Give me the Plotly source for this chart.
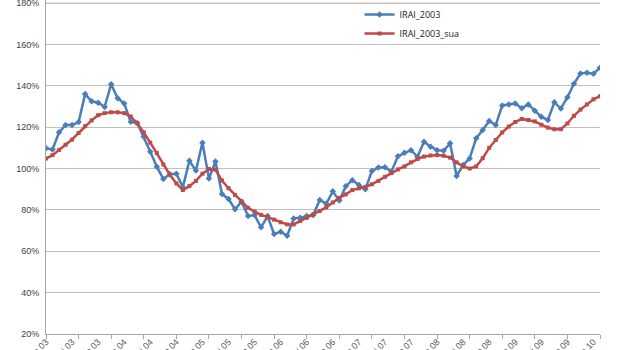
import plotly.graph_objects as go

# IRAI_2003 (blue) and IRAI_2003_sua (red), values in %
blue = [109.8, 109.2, 117.5, 121, 121, 122.5, 136, 132.5, 131.8, 129.8,
        140.8, 134, 131.5, 122.6, 122, 115.4, 108.1, 100.9, 94.9, 97.3,
        97.5, 91, 103.8, 99, 112.5, 95.2, 103.4, 87.7, 85.3, 80.3,
        84, 77, 77.5, 71.6, 77, 68.3, 69.5, 67.5, 75.9, 76.2,
        77, 77.5, 84.8, 83, 89, 84.5, 91.5, 94.4, 92, 90,
        98.8, 100.5, 100.6, 98.5, 106, 107.6, 108.9, 105.7, 113, 110.6,
        108.9, 108.6, 112.2, 96.4, 101.7, 104.9, 114.6, 118.6, 123, 121,
        130.5, 131, 131.5, 129.2, 131, 128, 125, 123.5, 132, 129,
        134.5, 141, 146, 146.3, 145.8, 148.8]

red = [104.8, 106.5, 109, 111.5, 114, 117.2, 120.5, 123.3, 125.8, 126.8,
       127.2, 127.2, 126.8, 125.2, 121.8, 117.5, 112.5, 107.5, 102, 97,
       92.8, 89.6, 91.5, 94, 97.5, 99.8, 99.5, 94.2, 90.5, 87.2,
       84.2, 81, 79.2, 77.6, 76.5, 75.3, 74, 73, 73, 74.6,
       76.2, 77.8, 79.5, 81.2, 83.6, 85.8, 87.5, 89.6, 90.4, 91.1,
       92.4, 94, 96, 97.8, 99.6, 101, 103, 104.6, 105.8, 106.3,
       106.5, 106.2, 105.3, 103, 101, 100, 101, 105, 110, 113.8,
       117.5, 120.3, 122.5, 124, 123.5, 122.8, 121.2, 119.8, 119, 119,
       121.8, 125.5, 128.5, 131, 133.5, 135]

months = ["ian", "feb", "mar", "apr", "mai", "iun", "iul", "aug", "sep", "oct", "nov", "dec"]
labels = [f"{months[k % 12]}.{(3 + k // 12):02d}" for k in range(len(blue))]
ymin, ymax, ystep = 20, 180, 20

x = list(range(len(blue)))
BLUE = "#4A7EBB"
RED = "#BE4B48"
GRID = "#bfbfbf"

fig = go.Figure()
fig.add_trace(go.Scatter(x=x, y=blue, name="IRAI_2003", mode="lines+markers",
                         line=dict(color=BLUE, width=2.5),
                         marker=dict(symbol="diamond", size=5, color=BLUE),
                         legendgroup="a"))
fig.add_trace(go.Scatter(x=x, y=red, name="IRAI_2003_sua", mode="lines+markers",
                         line=dict(color=RED, width=2.5),
                         marker=dict(symbol="square", size=4, color=RED),
                         legendgroup="b"))
# invisible copy so the label axis is drawn
fig.add_trace(go.Scatter(x=x, y=red, xaxis="x2", mode="lines", opacity=0,
                         showlegend=False, hoverinfo="skip"))

# top gridline (180%) sits right at the edge of the plot area
fig.add_hline(y=ymax, line=dict(color=GRID, width=1), layer="below")

fig.update_layout(
    width=620, height=350,
    margin=dict(l=46, r=20, t=0, b=16),
    plot_bgcolor="white", paper_bgcolor="white",
    font=dict(family="Liberation Sans", size=9, color="#404040"),
    xaxis=dict(range=[0, len(x) - 1], showgrid=False, showline=True, linecolor="#a6a6a6",
               linewidth=1, ticks="outside", ticklen=4, tickcolor="#a6a6a6",
               tickvals=x[::5], showticklabels=False, zeroline=False, automargin=False),
    xaxis2=dict(overlaying="x", side="bottom", anchor="y", range=[0, len(x) - 1],
                showgrid=False, showline=False, ticks="", tickvals=x[::4],
                ticktext=labels[::4], tickangle=-45, automargin=False, zeroline=False,
                ticklabeloverflow="allow",
                tickfont=dict(size=9, color="#595959")),
    yaxis=dict(range=[ymin, ymax + 1.5], tickmode="linear", tick0=ymin, dtick=ystep,
               ticksuffix="%", showgrid=True, ticklabeloverflow="allow",
               gridcolor=GRID, gridwidth=1, showline=True, linecolor="#a6a6a6",
               ticks="", zeroline=False, automargin=False, ticklabelstandoff=4),
    legend=dict(x=0.566, y=1.0, xanchor="left", yanchor="top",
                bgcolor="rgba(0,0,0,0)", tracegroupgap=0, itemwidth=30,
                font=dict(size=9, color="#1a1a1a", family="Open Sans")),
    showlegend=True,
)

fig.write_html("out.html")
